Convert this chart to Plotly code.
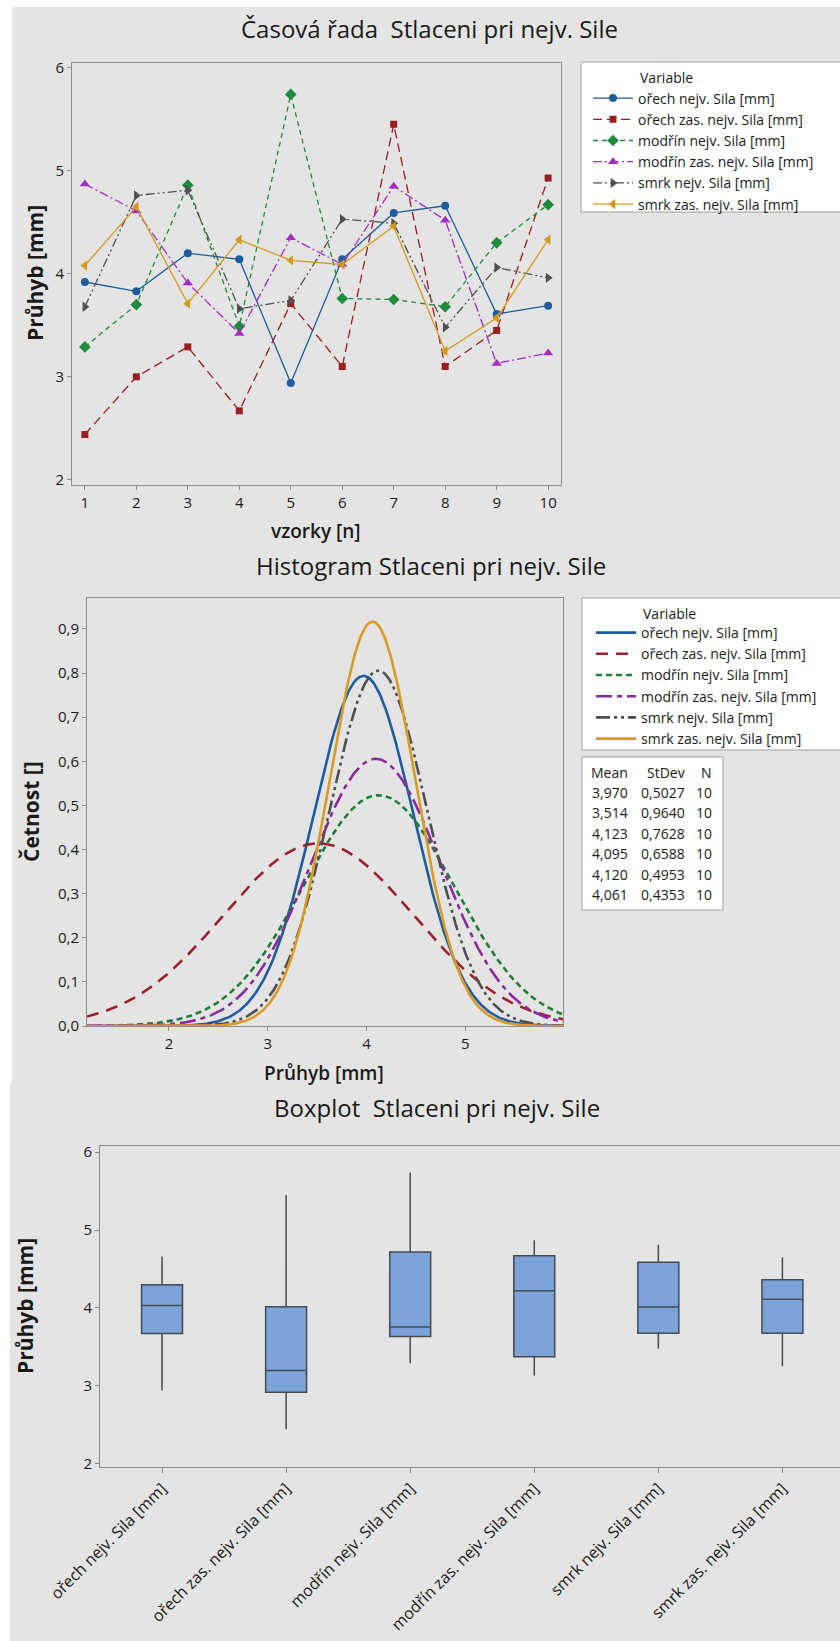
import numpy as np
import plotly.graph_objects as go

W, H = 840, 1641

# ---------------- data ----------------
samples = list(range(1, 11))
series_names = [
    "ořech nejv. Sila [mm]",
    "ořech zas. nejv. Sila [mm]",
    "modřín nejv. Sila [mm]",
    "modřín zas. nejv. Sila [mm]",
    "smrk nejv. Sila [mm]",
    "smrk zas. nejv. Sila [mm]",
]
orech_nejv = [3.92, 3.83, 4.20, 4.14, 2.94, 4.14, 4.59, 4.66, 3.61, 3.69]
orech_zas = [2.44, 3.00, 3.29, 2.67, 3.71, 3.10, 5.45, 3.10, 3.45, 4.93]
modrin_nejv = [3.29, 3.70, 4.86, 3.49, 5.74, 3.76, 3.75, 3.68, 4.30, 4.67]
modrin_zas = [4.87, 4.61, 3.91, 3.42, 4.35, 4.09, 4.85, 4.52, 3.13, 3.23]
smrk_nejv = [3.68, 4.76, 4.81, 3.66, 3.74, 4.53, 4.49, 3.48, 4.06, 3.96]
smrk_zas = [4.08, 4.65, 3.71, 4.33, 4.13, 4.09, 4.46, 3.25, 3.57, 4.33]

fit_means = [3.970, 3.514, 4.123, 4.095, 4.120, 4.061]
fit_stdevs = [0.5027, 0.9640, 0.7628, 0.6588, 0.4953, 0.4353]
fit_counts = [10, 10, 10, 10, 10, 10]

ts_yticks = [2, 3, 4, 5, 6]
hist_xticks = [2, 3, 4, 5]

# ---------------- styles ----------------
FONT = "Open Sans"
ts_colors = ["#1f5c9e", "#9a1d22", "#1d8a3c", "#a22ec0", "#4f4f4f", "#d39a1f"]
hist_colors = ["#1f5c9e", "#9a2030", "#1d7d3a", "#8a2a9c", "#4f4f4f", "#d99b26"]
ts_dash = ["solid", "9px,5px", "5px,4px", "9px,3px,2px,3px", "9px,3px,2px,3px,2px,3px", "solid"]
hist_dash = ["solid", "12px,8px", "6px,4px", "16px,5px,5px,5px", "14px,4px,3px,4px,3px,4px", "solid"]
ts_symbols = ["circle", "square", "diamond", "triangle-up", "triangle-right", "triangle-left"]
ts_msize = [8, 7, 9, 9, 9, 9]
FRAME = "#8c8c8c"
TXT = "#1a1a1a"
LEG_SIZE = 14
TICK_SIZE = 15


def px(x):
    return x / W


def py(y):
    return 1 - y / H


fig = go.Figure()

# ---- time series ----
ts_data = [orech_nejv, orech_zas, modrin_nejv, modrin_zas, smrk_nejv, smrk_zas]
for name, vals, c, d, s, ms in zip(series_names, ts_data, ts_colors, ts_dash, ts_symbols, ts_msize):
    fig.add_trace(go.Scatter(
        x=samples, y=vals, mode="lines+markers", name=name,
        line=dict(color=c, width=1.3, dash=d),
        marker=dict(symbol=s, size=ms, color=c, line=dict(width=0)),
        xaxis="x", yaxis="y", legend="legend",
    ))

# ---- fitted normal curves (histogram panel) ----
hist_x = np.linspace(1.17, 5.99, 400)
for name, m, sd, c, d in zip(series_names, fit_means, fit_stdevs, hist_colors, hist_dash):
    pdf = np.exp(-0.5 * ((hist_x - m) / sd) ** 2) / (sd * np.sqrt(2 * np.pi))
    fig.add_trace(go.Scatter(
        x=hist_x, y=pdf, mode="lines", name=name,
        line=dict(color=c, width=2.6, dash=d),
        xaxis="x2", yaxis="y2", legend="legend2",
    ))

# ---- boxplots ----
for name, vals in zip(series_names, ts_data):
    arr = np.array(vals)
    q1, med, q3 = np.quantile(arr, [0.25, 0.5, 0.75], method="weibull")
    iqr = q3 - q1
    lo = arr[arr >= q1 - 1.5 * iqr].min()
    hi = arr[arr <= q3 + 1.5 * iqr].max()
    fig.add_trace(go.Box(
        x=[name], q1=[q1], median=[med], q3=[q3], lowerfence=[lo], upperfence=[hi],
        orientation="v", width=0.33, whiskerwidth=0, boxpoints=False,
        fillcolor="#7ba3d9", line=dict(color="#444a52", width=1.5),
        showlegend=False, xaxis="x3", yaxis="y3",
    ))

axis_common = dict(
    showline=True, mirror=True, linecolor=FRAME, linewidth=1, automargin=False,
    ticks="outside", ticklen=4, tickcolor=FRAME, showgrid=False, zeroline=False,
    tickfont=dict(family=FONT, size=TICK_SIZE, color=TXT),
)

shapes = [
    dict(type="rect", xref="paper", yref="paper", x0=px(12), x1=px(841), y0=py(1083), y1=py(7),
         fillcolor="#e4e4e4", line=dict(width=0), layer="below"),
    dict(type="rect", xref="paper", yref="paper", x0=px(10), x1=px(841), y0=py(1642), y1=py(1083),
         fillcolor="#e4e4e4", line=dict(width=0), layer="below"),
    dict(type="rect", xref="paper", yref="paper", x0=px(581), x1=px(845), y0=py(212), y1=py(62),
         fillcolor="white", line=dict(color="#a0a0a0", width=1), layer="below"),
    dict(type="rect", xref="paper", yref="paper", x0=px(582), x1=px(845), y0=py(750), y1=py(598),
         fillcolor="white", line=dict(color="#a0a0a0", width=1), layer="below"),
    dict(type="rect", xref="paper", yref="paper", x0=px(582), x1=px(723), y0=py(910), y1=py(757),
         fillcolor="white", line=dict(color="#a0a0a0", width=1), layer="below"),
]

ann = []


def text(x, y, t, size=14, weight="normal", angle=0, xanchor="center", yanchor="middle", color=TXT):
    ann.append(dict(
        x=px(x), y=py(y), xref="paper", yref="paper", text=t, showarrow=False,
        xanchor=xanchor, yanchor=yanchor, textangle=angle,
        font=dict(family=FONT, size=size, color=color, weight=weight),
    ))


# titles
text(429.5, 28, "Časová řada  Stlaceni pri nejv. Sile", size=24)
text(431, 565, "Histogram Stlaceni pri nejv. Sile", size=24)
text(437, 1107, "Boxplot  Stlaceni pri nejv. Sile", size=24)
# axis titles
text(35, 273, "Průhyb [mm]", size=21, weight="bold", angle=-90)
text(316, 531, "vzorky [n]", size=19, weight=600)
text(31, 812, "Četnost []", size=21, weight="bold", angle=-90)
text(324, 1073, "Průhyb [mm]", size=19, weight=600)
text(25, 1306, "Průhyb [mm]", size=21, weight="bold", angle=-90)
# legend headers
text(638, 78, "Variable", size=LEG_SIZE, xanchor="left")
text(641, 613, "Variable", size=LEG_SIZE, xanchor="left")

# stats table
col_right = [630, 687, 714]
headers = ["Mean", "StDev", "N"]
for cx, h in zip(col_right, headers):
    text(cx, 772.5, h, size=LEG_SIZE, xanchor="right")
for i, (m, sd, n) in enumerate(zip(fit_means, fit_stdevs, fit_counts)):
    yrow = 792.5 + i * 20.4
    text(col_right[0], yrow, f"{m:.3f}".replace(".", ","), size=LEG_SIZE, xanchor="right")
    text(col_right[1], yrow, f"{sd:.4f}".replace(".", ","), size=LEG_SIZE, xanchor="right")
    text(col_right[2], yrow, f"{n}", size=LEG_SIZE, xanchor="right")

legend_common = dict(
    bgcolor="rgba(0,0,0,0)", borderwidth=0, xanchor="left", yanchor="top",
    font=dict(family=FONT, size=LEG_SIZE, color=TXT), itemwidth=40,
    itemclick=False, itemdoubleclick=False,
)

fig.update_layout(
    width=W, height=H, margin=dict(l=0, r=0, t=0, b=0, autoexpand=False),
    paper_bgcolor="white", plot_bgcolor="white",
    separators=", ",
    showlegend=True,
    font=dict(family=FONT, color=TXT),
    xaxis=dict(domain=[px(72), px(561)], anchor="y", range=[0.75, 10.25], tickvals=samples, **axis_common),
    yaxis=dict(domain=[py(485), py(62.5)], anchor="x", range=[1.95, 6.05], tickvals=ts_yticks, **axis_common),
    xaxis2=dict(domain=[px(87), px(563)], anchor="y2", range=[1.17, 5.99], tickvals=hist_xticks, **axis_common),
    yaxis2=dict(domain=[py(1026), py(598)], anchor="x2", range=[0, 0.97], dtick=0.1, tickformat=".1f", **axis_common),
    xaxis3=dict(domain=[px(100), px(839.5)], anchor="y3", type="category", categoryorder="array",
                categoryarray=series_names, range=[-0.5, 5.46], tickangle=-45, **{**axis_common, "ticklen": 5,
                "tickfont": dict(family=FONT, size=16, color=TXT)}),
    yaxis3=dict(domain=[py(1467), py(1146)], anchor="x3", range=[1.956, 6.08], tickvals=ts_yticks, **axis_common),
    legend=dict(x=px(588), y=py(82.5), **legend_common),
    legend2=dict(x=px(591), y=py(617), **legend_common),
    shapes=shapes,
    annotations=ann,
)

fig.write_html("out.html")
